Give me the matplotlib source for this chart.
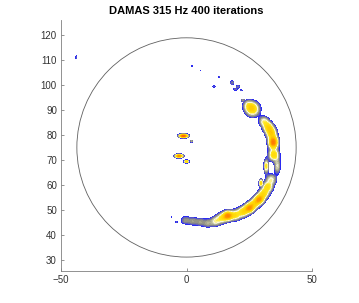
import numpy as np
import matplotlib
matplotlib.use("Agg")
import matplotlib.pyplot as plt
from matplotlib.colors import LinearSegmentedColormap
from matplotlib.patches import Circle

plt.rcParams['font.family'] = ['Liberation Sans', 'DejaVu Sans']

# sources along the arc: x, y, level, spread
arc_x = [-0.5, 2.5, 5.5, 8.5, 11.5, 14.0, 16.5, 19.5, 22.5, 25.0, 27.0, 29.0,
         30.8, 32.4, 33.8, 31.8, 36.2, 34.8, 34.6, 33.8, 32.5, 30.8, 26.3, 24.5]
arc_y = [46.0, 45.6, 45.3, 44.8, 45.5, 46.8, 47.8, 48.0, 49.3, 50.8, 52.5, 54.3,
         56.6, 59.3, 62.3, 67.5, 67.5, 72.0, 77.0, 80.8, 83.2, 85.5, 90.3, 92.0]
arc_amp = [0.20, 0.20, 0.20, 0.22, 0.30, 0.36, 0.64, 0.40, 0.44, 0.59, 0.40, 0.59,
           0.42, 0.42, 0.32, 0.42, 0.30, 0.48, 0.75, 0.46, 0.42, 0.32, 0.52, 0.20]
arc_sx = [1.3, 1.3, 1.3, 1.3, 1.3, 1.4, 1.3, 1.4, 1.4, 1.3, 1.4, 1.3,
          1.4, 1.4, 1.4, 0.6, 0.8, 1.4, 1.3, 1.4, 1.4, 1.3, 1.9, 1.4]
arc_sy = [1.2, 1.2, 1.2, 1.2, 1.3, 1.4, 1.3, 1.4, 1.4, 1.3, 1.4, 1.3,
          1.4, 1.4, 1.4, 1.8, 2.0, 1.6, 1.7, 1.5, 1.4, 1.3, 1.9, 1.4]

# isolated small spots: x, y, level, half sizes
spot_x = [-1.2, 2.0, -3.0, 0.0, -44.0, 2.0, 5.5, 13.0, 11.0, 18.2, 20.5, 19.5,
          21.8, 22.5, -6.0, -4.0, 29.7]
spot_y = [79.6, 77.5, 71.6, 69.4, 110.9, 107.4, 105.6, 103.2, 99.3, 100.8, 99.2,
          98.2, 97.8, 93.8, 47.4, 45.4, 60.8]
spot_amp = [0.85, 0.25, 0.72, 0.55, 0.14, 0.13, 0.12, 0.13, 0.14, 0.18, 0.17,
            0.16, 0.14, 0.22, 0.13, 0.14, 0.50]
spot_sx = [1.2, 0.35, 1.1, 0.6, 0.2, 0.35, 0.25, 0.3, 0.8, 0.6, 0.6, 0.8,
           0.5, 0.6, 0.25, 0.35, 0.5]
spot_sy = [0.45, 0.35, 0.45, 0.35, 0.8, 0.35, 0.25, 0.3, 0.3, 0.7, 0.6, 0.4,
           0.3, 0.4, 0.25, 0.35, 1.0]

xticks = [-50, 0, 50]
yticks = [30, 40, 50, 60, 70, 80, 90, 100, 110, 120]

# map grid
gx, gy = np.meshgrid(np.arange(-50, 50.01, 0.25), np.arange(25, 126.01, 0.25))
field = np.zeros_like(gx)
for x0, y0, a, sx, sy in zip(arc_x, arc_y, arc_amp, arc_sx, arc_sy):
    field += a * np.exp(-((gx - x0) ** 2 / (2 * sx * sx) + (gy - y0) ** 2 / (2 * sy * sy)))
for x0, y0, a, sx, sy in zip(spot_x, spot_y, spot_amp, spot_sx, spot_sy):
    field = np.maximum(field, a * np.exp(-((gx - x0) ** 2 / (2 * sx * sx)
                                           + (gy - y0) ** 2 / (2 * sy * sy))))
field = np.clip(field, 0, 1)

cmap = LinearSegmentedColormap.from_list(
    'damas', [(0.0, '#1a1aff'), (0.045, '#5a5ac8'), (0.11, '#8a8a80'),
              (0.2, '#c4c4a0'), (0.255, '#fbfbf0'), (0.333, '#ffe820'),
              (0.5, '#ffd000'), (0.667, '#ff9000'), (1.0, '#ff3000')])

fig = plt.figure(figsize=(3.59, 3.03), dpi=100)
ax = fig.add_axes([0.170, 0.106, 0.699, 0.828])

levels = np.linspace(0.1, 1.0, 37)
ax.contourf(gx, gy, field, levels=levels, cmap=cmap, vmin=0.1, vmax=1.0)

ax.add_patch(Circle((0, 75), 43.7, fill=False, edgecolor='#606060', lw=0.6))

ax.set_xlim(-50, 50)
ax.set_ylim(25.8, 125.8)
ax.set_aspect('equal')
ax.set_xticks(xticks)
ax.set_yticks(yticks)
for sp in ['top', 'right']:
    ax.spines[sp].set_visible(False)
for sp in ['left', 'bottom']:
    ax.spines[sp].set_color('#808080')
    ax.spines[sp].set_linewidth(0.6)
ax.tick_params(direction='in', length=2.5, width=0.6, color='#808080',
               labelsize=7, labelcolor='#333333', pad=3)
ax.set_title('DAMAS 315 Hz 400 iterations', fontsize=8, fontweight='bold', pad=4)

fig.savefig('out.png', dpi=100)
